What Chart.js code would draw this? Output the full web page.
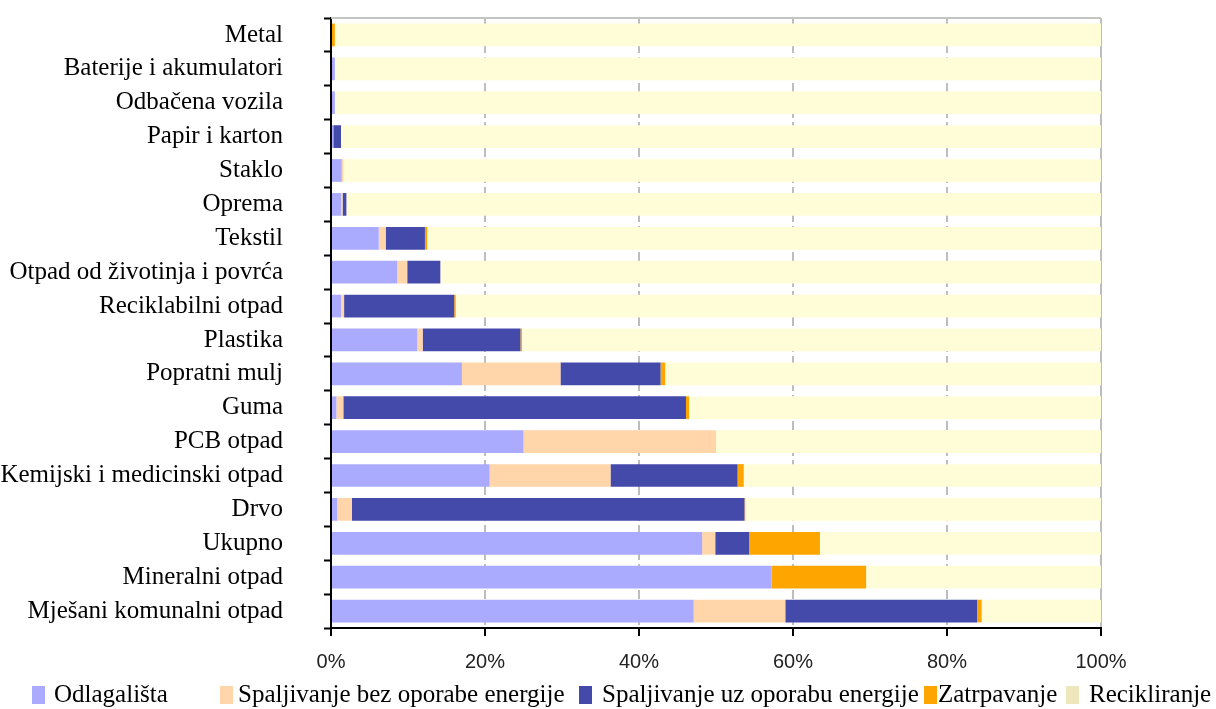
<!DOCTYPE html>
<html>
<head>
<meta charset="utf-8">
<script src="https://cdn.jsdelivr.net/npm/chart.js@4"></script>
<style>
  html, body { margin: 0; padding: 0; background: #fff; overflow: hidden; }
  #wrap { position: relative; width: 1216px; height: 709px; }
  #legend { position: absolute; left: 0; top: 0; width: 1216px; height: 709px; pointer-events: none; }
  .lg-box { position: absolute; top: 686px; width: 13px; height: 18px; }
  .lg-text { position: absolute; top: 679px; font: 25px 'Liberation Serif', 'Times New Roman', serif; color: #000; white-space: nowrap; line-height: 30px; }
</style>
</head>
<body>
<div id="wrap"><canvas id="wasteChart"></canvas><div id="legend"></div></div>
<script>
// Waste treatment share by stream (%)

const categories = [
    'Metal', 'Baterije i akumulatori', 'Odbačena vozila', 'Papir i karton', 'Staklo',
    'Oprema', 'Tekstil', 'Otpad od životinja i povrća', 'Reciklabilni otpad', 'Plastika',
    'Popratni mulj', 'Guma', 'PCB otpad', 'Kemijski i medicinski otpad', 'Drvo',
    'Ukupno', 'Mineralni otpad', 'Mješani komunalni otpad'
];

const odlagalista  = [0, 0.5, 0.5, 0.3, 1.4, 1.3, 6.2, 8.6, 1.3, 11.2, 17.0, 0.7, 25.0, 20.6, 0.8, 48.2, 57.2, 47.1];
const spaljBez     = [0, 0, 0, 0, 0.2, 0.2, 0.9, 1.3, 0.4, 0.7, 12.8, 0.9, 25.0, 15.7, 1.9, 1.7, 0, 11.9];
const spaljUz      = [0, 0, 0, 1.0, 0, 0.5, 5.1, 4.3, 14.3, 12.7, 13.0, 44.5, 0, 16.5, 51.0, 4.4, 0, 24.9];
const zatrpavanje  = [0.5, 0, 0, 0, 0, 0, 0.3, 0, 0.2, 0.2, 0.6, 0.4, 0, 0.8, 0.1, 9.2, 12.3, 0.6];
const recikliranje = [99.5, 99.5, 99.5, 98.7, 98.4, 98.0, 87.5, 85.8, 83.8, 75.2, 56.6, 53.5, 50.0, 46.4, 46.2, 36.5, 30.5, 15.5];

const xTicks = [0, 20, 40, 60, 80, 100];

const serif = "'Liberation Serif', 'Times New Roman', serif";
const sans = "'Liberation Sans', Arial, sans-serif";

// legend layout (box x, text x) - the original spacing is uneven
const legendPos = [[32, 54], [220, 238], [579, 602], [924, 938], [1066, 1089]];
const legendSwatch = ['#aaaaff', '#ffd5a9', '#444aaa', '#ffa500', '#eee6bd'];

// thin gray frame line along the top of the plot
const topLine = {
    id: 'topLine',
    beforeDatasetsDraw(chart) {
        const { ctx, chartArea } = chart;
        ctx.save();
        ctx.strokeStyle = '#c4c4c4';
        ctx.lineWidth = 2;
        ctx.beginPath();
        ctx.moveTo(chartArea.left, chartArea.top);
        ctx.lineTo(chartArea.right, chartArea.top);
        ctx.stroke();
        ctx.restore();
    }
};

const ctx = document.getElementById('wasteChart').getContext('2d');
const chart = new Chart(ctx, {
    type: 'bar',
    data: {
        labels: categories,
        datasets: [
            { label: 'Odlagališta', data: odlagalista, backgroundColor: '#aaaaff' },
            { label: 'Spaljivanje bez oporabe energije', data: spaljBez, backgroundColor: '#ffd5a9' },
            { label: 'Spaljivanje uz oporabu energije', data: spaljUz, backgroundColor: '#444aaa' },
            { label: 'Zatrpavanje', data: zatrpavanje, backgroundColor: '#ffa500' },
            { label: 'Recikliranje', data: recikliranje, backgroundColor: '#fffcd8' }
        ]
    },
    options: {
        indexAxis: 'y',
        responsive: true,
        maintainAspectRatio: false,
        animation: false,
        layout: { padding: { top: 18, right: 115, left: 0, bottom: 38 } },
        datasets: {
            bar: { barPercentage: 0.67, categoryPercentage: 1.0, borderWidth: 0 }
        },
        plugins: {
            tooltip: { enabled: false },
            legend: { display: false }
        },
        scales: {
            x: {
                stacked: true,
                min: 0,
                max: 100,
                afterBuildTicks(scale) {
                    scale.ticks = xTicks.map(v => ({ value: v }));
                },
                afterFit(scale) { scale.height = 43; },
                ticks: {
                    font: { family: sans, size: 20 },
                    color: '#222',
                    padding: 14,
                    callback: v => v + '%'
                },
                grid: {
                    color: c => (c.tick && c.tick.value === 0) ? 'rgba(0,0,0,0)' : '#bdbdbd',
                    lineWidth: 2,
                    tickColor: '#000',
                    tickLength: 8,
                    tickWidth: 2
                },
                border: {
                    display: true,
                    color: '#000',
                    width: 2,
                    dash: c => (c.tick && c.tick.value === 100) ? [] : [9, 4]
                }
            },
            y: {
                stacked: true,
                afterFit(scale) {
                    scale.width = 331;
                    // the big label gap should not eat plot height
                    scale.paddingTop = 0;
                    scale.paddingBottom = 0;
                },
                ticks: {
                    font: { family: serif, size: 25 },
                    color: '#000',
                    padding: 41,
                    autoSkip: false
                },
                grid: {
                    drawOnChartArea: false,
                    offset: true,
                    tickColor: '#000',
                    tickLength: 7,
                    tickWidth: 2
                },
                border: { display: true, color: '#000', width: 2 }
            }
        }
    },
    plugins: [topLine]
});

// HTML legend built from the chart's datasets
const legendEl = document.getElementById('legend');
chart.data.datasets.forEach((ds, i) => {
    const box = document.createElement('div');
    box.className = 'lg-box';
    box.style.left = legendPos[i][0] + 'px';
    box.style.background = legendSwatch[i];
    legendEl.appendChild(box);

    const txt = document.createElement('div');
    txt.className = 'lg-text';
    txt.style.left = legendPos[i][1] + 'px';
    txt.textContent = ds.label;
    legendEl.appendChild(txt);
});
</script>
</body>
</html>
